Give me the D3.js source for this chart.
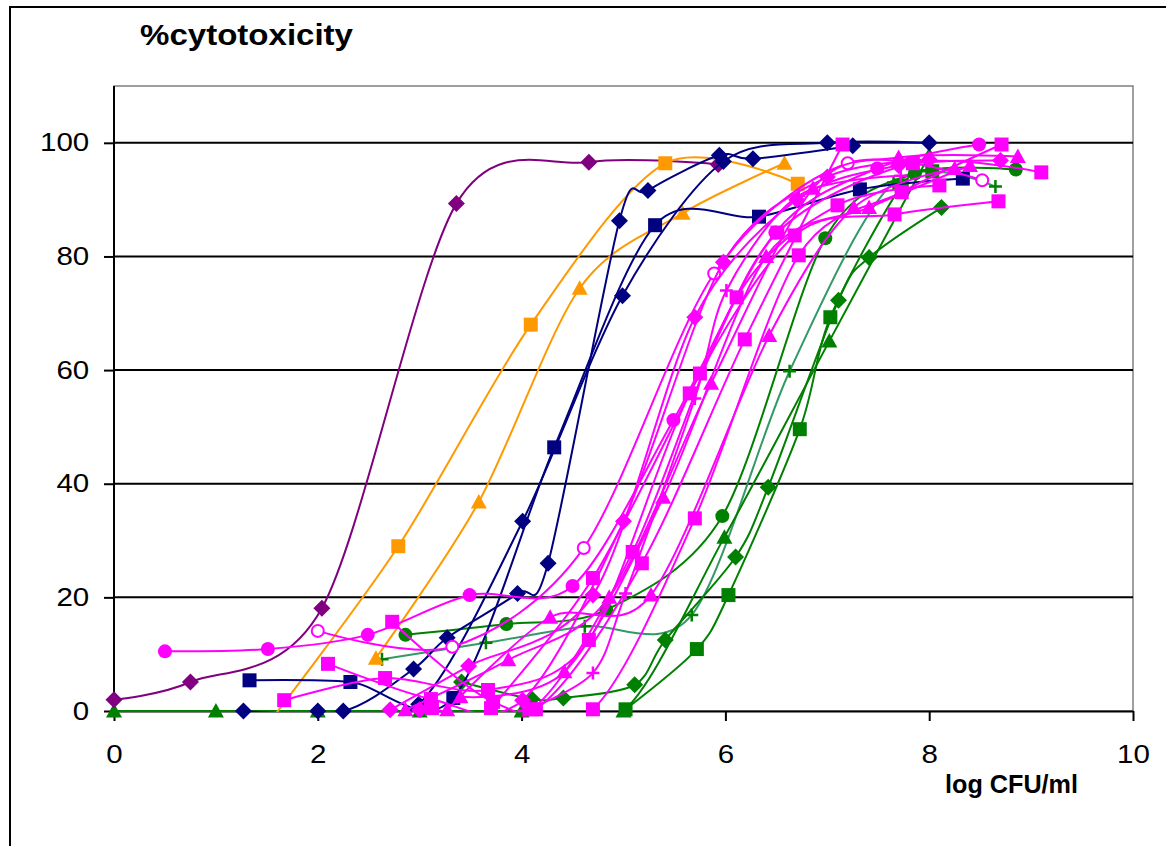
<!DOCTYPE html>
<html>
<head>
<meta charset="utf-8">
<script src="https://cdn.jsdelivr.net/npm/d3@7"></script>
<style>
  body { margin: 0; background: #fff; }
  text { font-family: Arial, "Liberation Sans", sans-serif; fill: #000; }
</style>
</head>
<body>
<script>
// axis ticks
const xTicks = [0, 2, 4, 6, 8, 10];
const yTicks = [0, 20, 40, 60, 80, 100];

// [log CFU/ml, % cytotoxicity]
const purpleDiamond = [[0,2],[0.75,5.1],[2.04,18.1],[3.36,89.3],[4.66,96.6],[5.93,96.2]];
const orangeSquare = [[1.48,-3],[2.79,29.0],[4.09,68.0],[5.41,96.4],[6.71,92.8]];
const orangeTriangle = [[2.57,9.3],[3.58,36.8],[4.57,74.4],[5.58,87.6],[6.58,96.4]];
const navySquare = [[1.33,5.4],[2.32,5.1],[3.33,2.3],[4.32,46.4],[5.31,85.5],[6.33,87.0],[7.32,91.8],[8.33,93.7]];
const navyDiamondA = [[1.27,0],[2.25,0],[2.94,7.4],[3.27,12.9],[3.96,20.7],[4.26,26.0],[4.96,86.3],[5.24,91.6],[5.94,97.8],[6.27,97.2],[7.25,99.5]];
const navyDiamondB = [[2.0,0],[2.99,1.2],[4.01,33.4],[4.99,73.1],[5.98,96.7],[7.0,100],[8.0,100]];
const greenTriangle = [[0,0],[1,0],[2,0],[3,0],[4,0],[5,0],[5.99,30.6],[7.02,65.1],[8.0,97.8]];
const greenCircle = [[2.86,13.4],[3.85,15.3],[4.83,17.8],[5.97,34.3],[6.98,83.2],[7.86,94.6],[8.85,95.3]];
const greenDiamond = [[3.41,5.1],[4.1,2.1],[4.41,2.3],[5.11,4.6],[5.41,12.5],[6.1,27.1],[6.42,39.4],[7.11,72.3],[7.41,79.8],[8.12,88.6]];
const greenSquare = [[5.02,0.3],[5.72,10.9],[6.03,20.4],[6.73,49.6],[7.03,69.3],[7.73,92.5],[8.03,95.0]];
const tealPlus = [[2.63,9.1],[3.65,12.0],[4.62,14.9],[5.67,16.9],[6.63,59.8],[7.65,93.0],[8.65,92.3]];
const pinkCircle = [[0.5,10.5],[1.51,10.9],[2.49,13.4],[3.49,20.4],[4.5,22.0],[5.49,51.2],[6.49,84.2],[7.49,95.5],[8.49,99.7]];
const pinkOpenCircle = [[2.0,14.1],[3.32,11.3],[4.61,28.7],[5.89,77.0],[7.2,96.4],[8.52,93.4]];
const pinkSquareA = [[1.67,1.9],[2.66,5.8],[3.67,3.7],[4.66,12.5],[5.65,55.9],[6.68,83.7],[7.66,87.4],[8.68,89.7]];
const pinkSquareB = [[2.1,8.3],[3.11,2.1],[4.1,0.3],[5.09,28.0],[6.11,72.8],[7.1,89.0],[8.1,92.5]];
const pinkSquareC = [[2.73,15.7],[3.72,1.6],[4.7,0.3],[5.7,33.9],[6.72,80.2],[7.73,91.3],[8.71,99.7]];
const pinkSquareD = [[3.12,0.5],[4.14,0.3],[5.18,26.0],[6.19,65.4],[7.15,99.7]];
const pinkSquareE = [[3.7,0.5],[4.7,23.4],[5.75,59.4],[6.51,84.2],[7.84,96.4],[9.1,94.8]];
const pinkTriangleA = [[2.86,0.2],[3.87,9.0],[4.86,20.0],[5.86,57.7],[6.86,92.0],[7.7,97.4],[8.87,97.6]];
const pinkTriangleB = [[3.27,0.2],[4.28,16.5],[5.27,20.4],[6.43,66.1],[7.26,88.6],[8.25,95.5]];
const pinkTriangleC = [[3.4,2.5],[4.42,6.9],[5.39,37.6],[6.4,80.0],[7.41,88.6],[8.4,96.0]];
const pinkDiamondA = [[2.71,0.2],[3.48,7.9],[4.7,20.4],[5.7,69.3],[6.7,90.0],[7.7,96.0],[8.7,96.9]];
const pinkDiamondB = [[3.0,0.2],[4.01,1.9],[5.0,33.4],[5.98,79.0],[7.0,94.0],[8.0,97.0]];
const pinkPlus = [[4.02,0],[4.7,6.7],[5.02,20.7],[5.7,55.0],[6.01,74.0],[6.72,90.7],[7.72,94.2]];

const purple = "#800080", orange = "#FF9900", navy = "#000080",
      green = "#008000", teal = "#339966", pink = "#FF00FF";

// draw order: first in the list ends up underneath
const series = [
  {pts: tealPlus, line: teal, fill: green, shape: "plus"},
  {pts: greenTriangle, line: green, fill: green, shape: "triangle"},
  {pts: greenCircle, line: green, fill: green, shape: "circle"},
  {pts: greenDiamond, line: green, fill: green, shape: "diamond"},
  {pts: greenSquare, line: green, fill: green, shape: "square"},
  {pts: purpleDiamond, line: purple, fill: purple, shape: "diamond"},
  {pts: orangeSquare, line: orange, fill: orange, shape: "square"},
  {pts: orangeTriangle, line: orange, fill: orange, shape: "triangle"},
  {pts: navySquare, line: navy, fill: navy, shape: "square"},
  {pts: navyDiamondA, line: navy, fill: navy, shape: "diamond"},
  {pts: navyDiamondB, line: navy, fill: navy, shape: "diamond"},
  {pts: pinkCircle, line: pink, fill: pink, shape: "circle"},
  {pts: pinkOpenCircle, line: pink, fill: pink, shape: "open"},
  {pts: pinkSquareA, line: pink, fill: pink, shape: "square"},
  {pts: pinkSquareB, line: pink, fill: pink, shape: "square"},
  {pts: pinkSquareC, line: pink, fill: pink, shape: "square"},
  {pts: pinkSquareD, line: pink, fill: pink, shape: "square"},
  {pts: pinkSquareE, line: pink, fill: pink, shape: "square"},
  {pts: pinkTriangleA, line: pink, fill: pink, shape: "triangle"},
  {pts: pinkTriangleB, line: pink, fill: pink, shape: "triangle"},
  {pts: pinkTriangleC, line: pink, fill: pink, shape: "triangle"},
  {pts: pinkDiamondA, line: pink, fill: pink, shape: "diamond"},
  {pts: pinkDiamondB, line: pink, fill: pink, shape: "diamond"},
  {pts: pinkPlus, line: pink, fill: pink, shape: "plus"}
];

const W = 1166, H = 846;
const plotLeft = 114, plotRight = 1133, plotTop = 86, plotBottom = 711;

const svg = d3.select("body").append("svg")
  .attr("width", W)
  .attr("height", H);

const x = d3.scaleLinear().domain([0, 10]).range([plotLeft, plotRight]);
const y = d3.scaleLinear().domain([0, 110]).range([plotBottom, plotTop]);

// outer chart frame (runs off the right and bottom of the picture)
svg.append("rect")
  .attr("x", 10).attr("y", 7)
  .attr("width", 1200).attr("height", 900)
  .attr("fill", "none").attr("stroke", "#000").attr("stroke-width", 2);

// plot area border
svg.append("rect")
  .attr("x", plotLeft).attr("y", plotTop)
  .attr("width", plotRight - plotLeft).attr("height", plotBottom - plotTop)
  .attr("fill", "#fff").attr("stroke", "#808080").attr("stroke-width", 1.5);

// gridlines
svg.append("g").selectAll("line")
  .data(yTicks.filter(d => d > 0))
  .join("line")
  .attr("x1", plotLeft).attr("x2", plotRight)
  .attr("y1", d => y(d)).attr("y2", d => y(d))
  .attr("stroke", "#000").attr("stroke-width", 2);

// axes
const yAxis = svg.append("g")
  .attr("transform", `translate(${plotLeft},0)`)
  .call(d3.axisLeft(y).tickValues(yTicks).tickSize(10).tickPadding(11).tickSizeOuter(0));
const xAxis = svg.append("g")
  .attr("transform", `translate(0,${plotBottom})`)
  .call(d3.axisBottom(x).tickValues(xTicks).tickSize(10).tickPadding(24).tickSizeOuter(0));

[yAxis, xAxis].forEach(g => {
  g.select(".domain").attr("stroke", "#000").attr("stroke-width", 2);
  g.selectAll(".tick line").attr("stroke", "#000").attr("stroke-width", 2);
  g.selectAll(".tick text")
    .attr("font-size", 25)
    .attr("font-family", "Arial, 'Liberation Sans', sans-serif")
    .attr("fill", "#000")
    .attr("transform", "scale(1.18,1)");
});
// the y domain line should only run over the plot height
yAxis.select(".domain").attr("d", `M0,${plotTop}V${plotBottom}`);

// titles
svg.append("text")
  .attr("x", 140).attr("y", 45)
  .attr("font-size", 30).attr("font-weight", "bold")
  .attr("textLength", 213).attr("lengthAdjust", "spacingAndGlyphs")
  .text("%cytotoxicity");

svg.append("text")
  .attr("x", 945).attr("y", 793)
  .attr("font-size", 25).attr("font-weight", "bold")
  .attr("textLength", 133).attr("lengthAdjust", "spacingAndGlyphs")
  .text("log CFU/ml");

// series
svg.append("clipPath").attr("id", "plotClip")
  .append("rect")
  .attr("x", plotLeft).attr("y", plotTop)
  .attr("width", plotRight - plotLeft).attr("height", plotBottom - plotTop + 1);

const line = d3.line()
  .x(d => x(d[0]))
  .y(d => y(d[1]))
  .curve(d3.curveCardinal.tension(0.1));

function markerPath(shape) {
  switch (shape) {
    case "square": return "M-7,-7h14v14h-14Z";
    case "diamond": return "M0,-8.5L8.5,0L0,8.5L-8.5,0Z";
    case "triangle": return "M0,-8L8,6.5L-8,6.5Z";
    case "plus": return "M-6.5,0H6.5M0,-6.5V6.5";
    default: return null;
  }
}

const seriesG = svg.append("g");

series.forEach(s => {
  const g = seriesG.append("g");
  g.append("path")
    .datum(s.pts)
    .attr("clip-path", "url(#plotClip)")
    .attr("fill", "none")
    .attr("stroke", s.line)
    .attr("stroke-width", 2)
    .attr("d", line);

  const shown = s.pts.filter(d => d[1] >= 0);
  if (s.shape === "circle" || s.shape === "open") {
    g.selectAll("circle")
      .data(shown)
      .join("circle")
      .attr("cx", d => x(d[0]))
      .attr("cy", d => y(d[1]))
      .attr("r", s.shape === "open" ? 6 : 7)
      .attr("fill", s.shape === "open" ? "#fff" : s.fill)
      .attr("stroke", s.fill)
      .attr("stroke-width", s.shape === "open" ? 2 : 0);
  } else {
    g.selectAll("path.m")
      .data(shown)
      .join("path")
      .attr("class", "m")
      .attr("transform", d => `translate(${x(d[0])},${y(d[1])})`)
      .attr("d", markerPath(s.shape))
      .attr("fill", s.shape === "plus" ? "none" : s.fill)
      .attr("stroke", s.fill)
      .attr("stroke-width", s.shape === "plus" ? 2.5 : 0);
  }
});
</script>
</body>
</html>
